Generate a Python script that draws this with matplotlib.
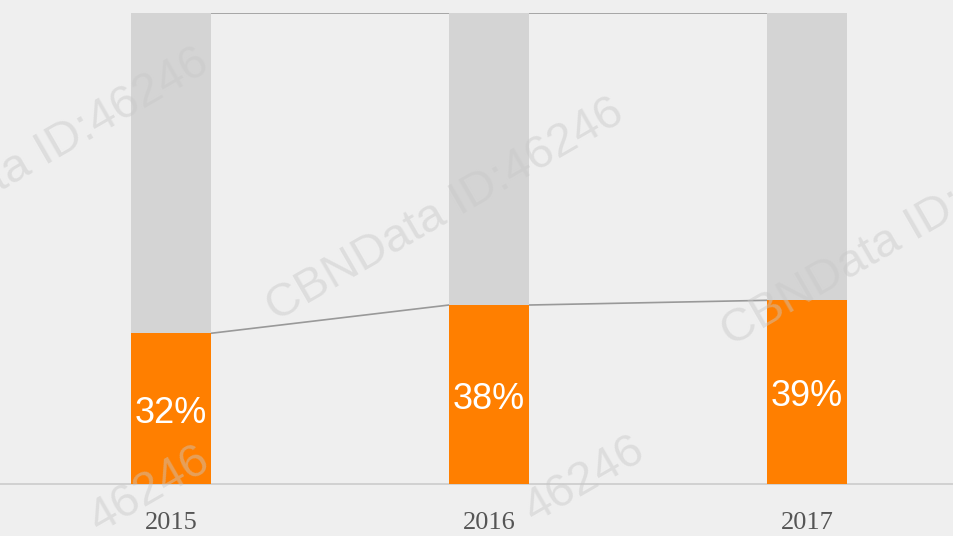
import numpy as np
import matplotlib.pyplot as plt

years = ['2015', '2016', '2017']
share = [32, 38, 39]      # orange part, %
rest = [100 - s for s in share]

orange = '#ff7f00'
grey = '#d4d4d4'

fig = plt.figure(figsize=(9.54, 5.36), dpi=100)
fig.patch.set_facecolor('#efefef')
ax = fig.add_axes([0, 52/536, 1, 471/536])
ax.set_facecolor('none')

x = np.arange(len(years))
w = 0.2516
ax.bar(x, share, width=w, color=orange, zorder=3)
ax.bar(x, rest, width=w, bottom=share, color=grey, zorder=3)

# connector lines between bars
for i in range(len(x) - 1):
    ax.plot([x[i] + w/2, x[i+1] - w/2], [share[i], share[i+1]], color='#999999', lw=1.2, zorder=2)
    ax.plot([x[i] + w/2, x[i+1] - w/2], [100, 100], color='#999999', lw=1.2, zorder=2)

for xi, s in zip(x, share):
    ax.text(xi, s/2 - 1, f'{s}%', color='white', ha='center', va='center',
            fontsize=26, family='Liberation Sans', zorder=4)

# watermarks (faint, partly off the edges as in the original)
wm = dict(color='#c8c8c8', alpha=0.45, fontsize=34, rotation=30, ha='center', va='center',
          family='Liberation Sans', zorder=1, transform=fig.transFigure)
fig.text(445/954, 1 - 210/536, 'CBNData ID:46246', **wm)
fig.text(900/954, 1 - 235/536, 'CBNData ID:46246', **wm)
fig.text(30/954, 1 - 160/536, 'CBNData ID:46246', **wm)
fig.text(150/954, 1 - 490/536, '46246', **wm)
fig.text(585/954, 1 - 480/536, '46246', **wm)

ax.set_xlim(-171/318, (954 - 171)/318)
ax.set_ylim(0, 100)
ax.set_yticks([])
ax.set_xticks(x)
ax.set_xticklabels(years, family='Liberation Serif', fontsize=19, color='#555555')
ax.tick_params(axis='x', length=0, pad=20)
for sp in ['top', 'left', 'right']:
    ax.spines[sp].set_visible(False)
ax.spines['bottom'].set_color('#cccccc')
ax.spines['bottom'].set_linewidth(1.2)

fig.savefig('out.png', dpi=100, facecolor=fig.get_facecolor())
